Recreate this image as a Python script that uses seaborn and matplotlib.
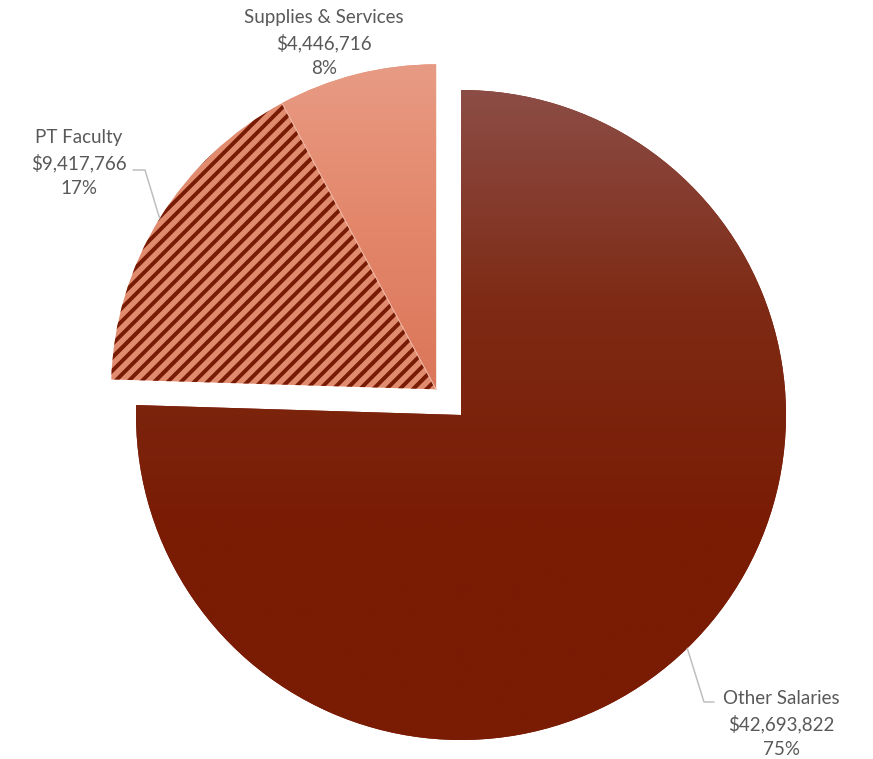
import numpy as np
import matplotlib
matplotlib.use("Agg")
import matplotlib.pyplot as plt
import seaborn as sns
from matplotlib.colors import LinearSegmentedColormap, to_rgba

# ---- data ----
categories = ["Other Salaries", "PT Faculty", "Supplies & Services"]
values = [42693822, 9417766, 4446716]

sns.set_theme(style="white")
plt.rcParams['font.family'] = ['Lato', 'DejaVu Sans']

W, H = 873, 759
fig = plt.figure(figsize=(W / 100, H / 100), dpi=100)
ax = fig.add_axes([0, 0, 1, 1])

cx, cy, R = 461, H - 415, 325
base_colors = ['#7B1F0A', '#E08A6E', '#E38A6F']
wedges, _ = ax.pie(values, startangle=90, counterclock=False,
                   center=(cx, cy), radius=R, colors=base_colors,
                   wedgeprops=dict(linewidth=0))

# explode the two small slices together along their common bisector
small = wedges[1:]
lo = min(w.theta1 for w in small)
hi = max(w.theta2 for w in small)
mid = np.deg2rad((lo + hi) / 2)
d = 0.11 * R
off = (d * np.cos(mid), d * np.sin(mid))
for w in small:
    w.set_center((cx + off[0], cy + off[1]))


# gradient fills
def grad_fill(w, stops):
    ext = w.get_path().get_extents()
    cmap = LinearSegmentedColormap.from_list('g', stops)
    arr = cmap(np.linspace(0, 1, 256))[:, None, :]
    im = ax.imshow(arr, extent=(ext.x0, ext.x1, ext.y0, ext.y1), origin='upper',
                   aspect='auto', zorder=1.5, interpolation='bilinear')
    im.set_clip_path(w)


grad_fill(wedges[0], ['#8C4D46', '#7E2A14', '#7A1C05', '#7A1B04'])
grad_fill(wedges[2], ['#E89B84', '#E3866A', '#DB765A'])


# diagonal stripe pattern for PT Faculty
def stripe_fill(w, color, period=13.3, frac=0.42):
    ext = w.get_path().get_extents()
    x0, x1 = np.floor(ext.x0), np.ceil(ext.x1)
    y0, y1 = np.floor(ext.y0), np.ceil(ext.y1)
    ss = 4
    nx, ny = int(x1 - x0) * ss, int(y1 - y0) * ss
    cols = np.arange(nx)[None, :] / ss
    rows = np.arange(ny)[:, None] / ss
    phase = np.mod(cols + rows, period) / period
    mask = (phase < frac).astype(float)
    mask = mask.reshape(ny // ss, ss, nx // ss, ss).mean(axis=(1, 3))
    rgba = np.zeros(mask.shape + (4,))
    rgba[..., :3] = to_rgba(color)[:3]
    rgba[..., 3] = mask
    im = ax.imshow(rgba, extent=(x0, x1, y0, y1), origin='upper',
                   aspect='auto', zorder=1.5, interpolation='nearest')
    im.set_clip_path(w)


stripe_fill(wedges[1], '#781B04')

# thin light separator between the two small slices
sw = wedges[2]
c2 = sw.center
ax.plot([c2[0], c2[0] + R * np.cos(np.deg2rad(sw.theta2))],
        [c2[1], c2[1] + R * np.sin(np.deg2rad(sw.theta2))],
        color='#F0B8A6', lw=0.8, zorder=2)

ax.set_xlim(0, W)
ax.set_ylim(0, H)
ax.set_aspect('equal')
ax.axis('off')

total = sum(values)
pcts = [f"{round(v / total * 100):d}%" for v in values]
labels = [[c, f"${v:,.0f}", p] for c, v, p in zip(categories, values, pcts)]

txt_kw = dict(ha='center', va='center', fontsize=13.5, color='#595959', zorder=5)
lead_kw = dict(color='#BFBFBF', lw=1.1, zorder=4)
LINE = 25.5


def put_label(x, ymid, lines):
    for i, s in enumerate(lines):
        ax.text(x, ymid - (i - 1) * LINE, s, **txt_kw)


def edge_point(w):
    m = np.deg2rad((w.theta1 + w.theta2) / 2)
    return w.center[0] + R * np.cos(m), w.center[1] + R * np.sin(m)


# Other Salaries
put_label(781, H - 724, labels[0])
p0 = edge_point(wedges[0])
ax.plot([p0[0], 704, 714], [p0[1], H - 702, H - 702], **lead_kw)

# PT Faculty
put_label(79, H - 163, labels[1])
p1 = edge_point(wedges[1])
ax.plot([p1[0], 145, 133], [p1[1], H - 170, H - 170], **lead_kw)

# Supplies & Services
put_label(324, H - 43, labels[2])

fig.savefig('out.png', dpi=100)
